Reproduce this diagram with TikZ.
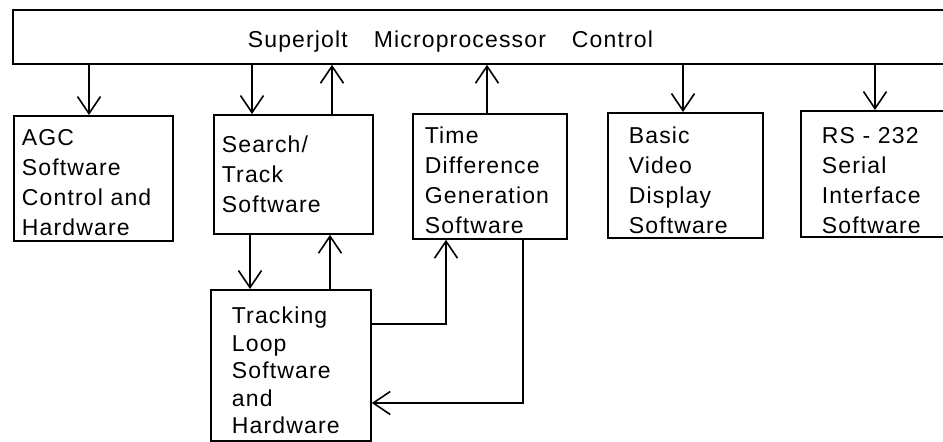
\documentclass[tikz,border=0pt]{standalone}
\usepackage{fontspec}
\setmainfont{Liberation Sans}[LetterSpace=5]
\usetikzlibrary{arrows.meta}
\newcommand{\lowr}[1]{\rule{0pt}{#1}}
\begin{document}
\begin{tikzpicture}[x=1pt,y=-1pt,
  box/.style={draw,line width=1.8pt,anchor=north west,inner ysep=0pt,align=left,
    font=\fontsize{23}{30}\selectfont},
  arr/.style={line width=1.6pt,-{Straight Barb[length=17pt,width=23pt,line width=1.6pt]}}
]
\useasboundingbox (0,0) rectangle (943,442);
% top control block
\node[box,minimum width=960pt,minimum height=54pt,text width=490pt,inner xsep=235pt] (top) at (12,9)
  {\lowr{25pt}Superjolt\hspace{26pt}Microprocessor\hspace{26pt}Control};
% blocks
\node[box,minimum width=159pt,minimum height=125pt,text width=143pt,inner xsep=8pt] (agc) at (13,115)
  {\lowr{24.5pt}AGC\\Software\\Control~and\\Hardware};
\node[box,minimum width=159pt,minimum height=119pt,text width=143pt,inner xsep=8pt] (srch) at (213,114)
  {Search/\\Track\\Software};
\node[box,minimum width=154pt,minimum height=125pt,text width=130pt,inner xsep=12pt] (tdg) at (412,113)
  {\lowr{23.5pt}Time\\Difference\\Generation\\Software};
\node[box,minimum width=155pt,minimum height=125pt,text width=113pt,inner xsep=21pt] (bvd) at (607,112)
  {\lowr{25.5pt}Basic\\Video\\Display\\Software};
\node[box,minimum width=160pt,minimum height=126pt,text width=118pt,inner xsep=21pt] (rs) at (800,110)
  {\lowr{30pt}RS~-~232\\Serial\\Interface\\Software};
\node[box,minimum width=160pt,minimum height=151pt,text width=118pt,inner xsep=21pt,
  font=\fontsize{23}{27.5}\selectfont] (trk) at (210,289)
  {\lowr{26.5pt}Tracking\\Loop\\Software\\and\\Hardware};
% connectors
\draw[arr] (89,0 |- top.south) -- (89,0 |- agc.north);
\draw[arr] (252,0 |- top.south) -- (252,0 |- srch.north);
\draw[arr] (332,0 |- srch.north) -- (332,0 |- top.south);
\draw[arr] (487,0 |- tdg.north) -- (487,0 |- top.south);
\draw[arr] (683,0 |- top.south) -- (683,0 |- bvd.north);
\draw[arr] (875,0 |- top.south) -- (875,0 |- rs.north);
\draw[arr] (250,0 |- srch.south) -- (250,0 |- trk.north);
\draw[arr] (330,0 |- trk.north) -- (330,0 |- srch.south);
\draw[arr] (trk.east |- 0,324) -| (446,0 |- tdg.south);
\draw[arr] (523,0 |- tdg.south) |- (trk.east |- 0,403);
\end{tikzpicture}
\end{document}
